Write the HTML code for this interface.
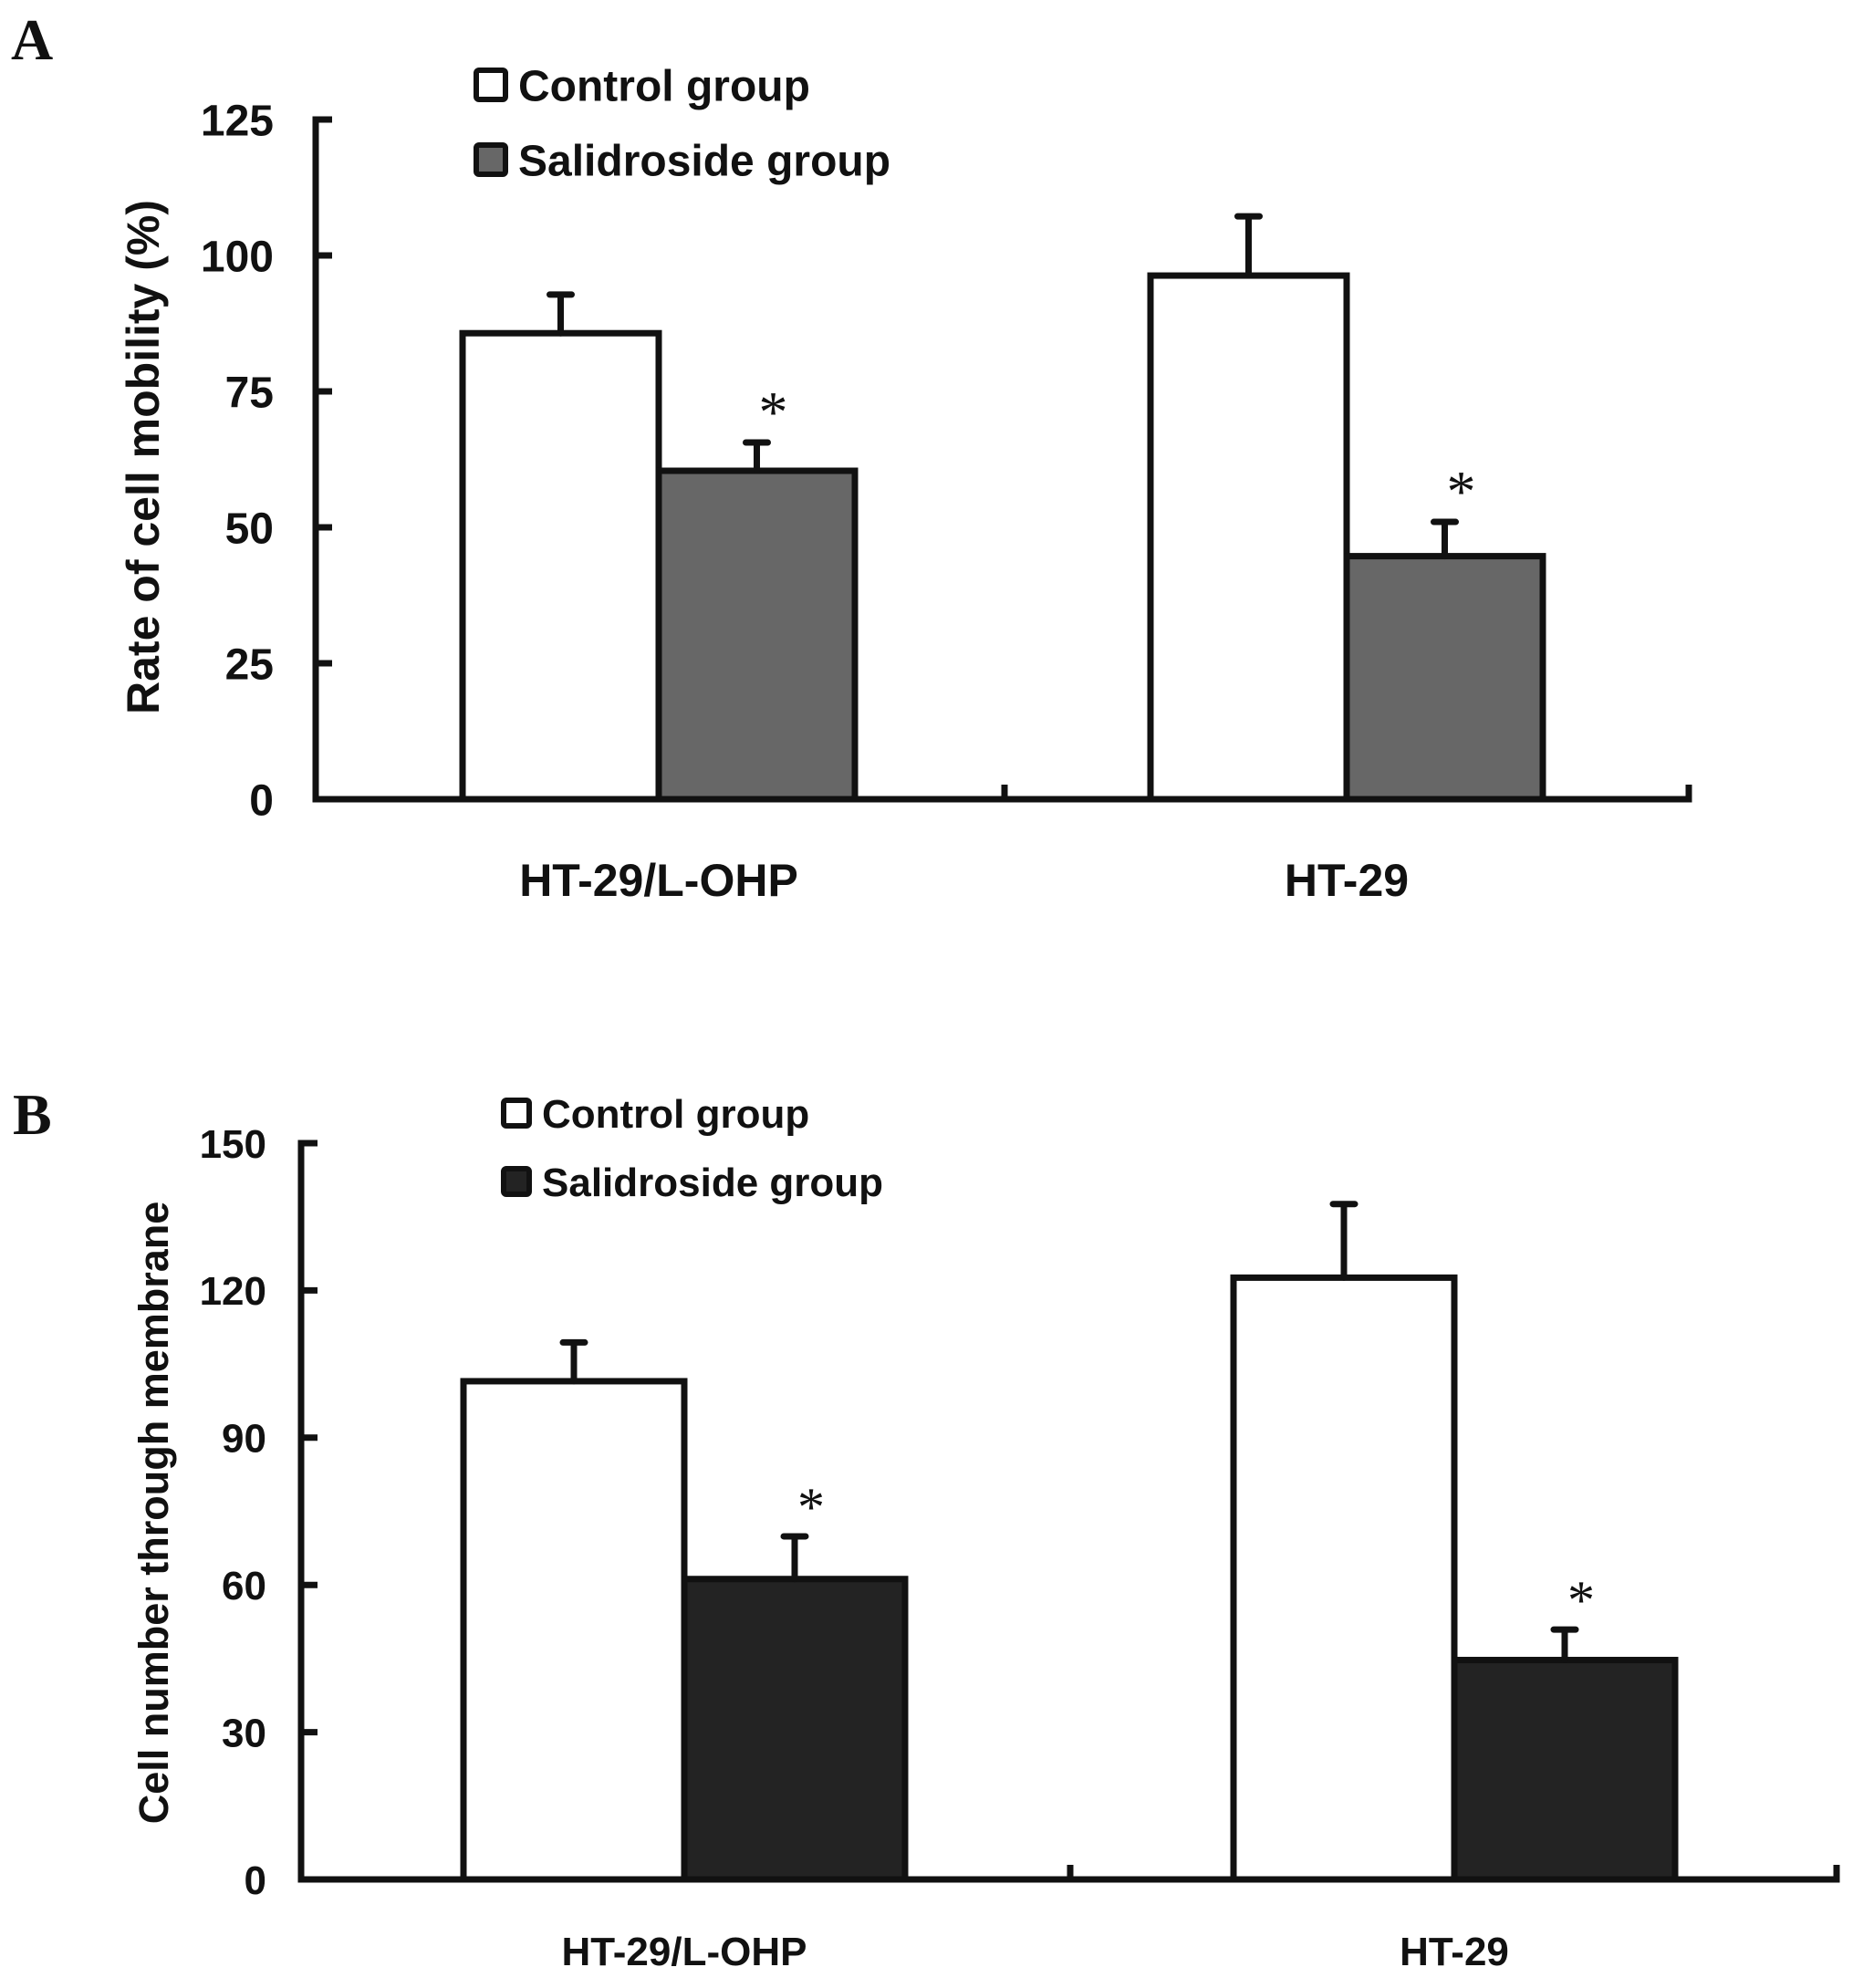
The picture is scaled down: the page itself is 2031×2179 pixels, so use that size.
<!DOCTYPE html>
<html><head><meta charset="utf-8"><style>
html,body{margin:0;padding:0;background:#fff;}
svg{display:block;}
text{font-family:"Liberation Sans",sans-serif;font-weight:bold;fill:#111;}
</style></head>
<body>
<svg id="fig" width="2031" height="2179" viewBox="0 0 2031 2179" xmlns="http://www.w3.org/2000/svg">
<text x="12" y="65" style="font-family:'Liberation Serif',serif;font-size:64px">A</text>
<text x="14" y="1243" style="font-family:'Liberation Serif',serif;font-size:64px">B</text>
</svg>
<script>
const categories = ["HT-29/L-OHP", "HT-29"];
const seriesNames = ["Control group", "Salidroside group"];
const aControl = [85.7, 96.3];
const aControlErr = [7.1, 10.9];
const aSalid = [60.4, 44.7];
const aSalidErr = [5.2, 6.3];
const aTicks = [0, 25, 50, 75, 100, 125];
const bControl = [101.5, 122.6];
const bControlErr = [7.9, 15.0];
const bSalid = [61.2, 44.7];
const bSalidErr = [8.7, 6.2];
const bTicks = [0, 30, 60, 90, 120, 150];

const NS = "http://www.w3.org/2000/svg";
const svg = document.getElementById("fig");
function mk(tag, attrs, parent) {
  const e = document.createElementNS(NS, tag);
  for (const k in attrs) e.setAttribute(k, attrs[k]);
  (parent || svg).appendChild(e);
  return e;
}

function panel(cfg) {
  const g = mk("g", {});
  
  
  const y = v => cfg.y0 - (v - cfg.ticks[0]) / (cfg.ticks[cfg.ticks.length - 1] - cfg.ticks[0]) * (cfg.y0 - cfg.yTop);
  const sw = 7;
  for (let i = 0; i < categories.length; i++) {
    const gx = cfg.groupX[i];
    const sets = [[cfg.ctrl, cfg.ctrlErr, "#ffffff"], [cfg.sal, cfg.salErr, cfg.salColor]];
    sets.forEach((s, j) => {
      const x0 = gx + j * cfg.bw;
      const top = y(s[0][i]);
      const r = mk("rect", {x: x0, y: top, width: cfg.bw, height: cfg.y0 - top, fill: s[2], stroke: "#111", "stroke-width": sw}, g);
      
      
      const cx = x0 + cfg.bw / 2, et = y(s[0][i] + s[1][i]);
      const e = mk("path", {d: `M${cx} ${top}V${et}M${cx - 12} ${et}H${cx + 12}`, stroke: "#111", "stroke-width": sw, fill: "none", "stroke-linecap": "round"}, g);
      
      
      if (j === 1) {
        const st = mk("text", {x: cx + 18, y: et - 12, "font-size": cfg.starSize, "text-anchor": "middle", style: "font-family:'Liberation Serif',serif;font-weight:normal"}, g);
        st.textContent = "*";
        
        
      }
    });
    const lab = mk("text", {x: gx + cfg.bw, y: cfg.labelY, "font-size": cfg.xfs, "text-anchor": "middle"}, g);
    lab.textContent = categories[i];
    
    
  }
  const ax = mk("path", {d: `M${cfg.x0 + 18} ${cfg.yTop}H${cfg.x0}V${cfg.y0}H${cfg.xEnd}V${cfg.y0 - 16}M${cfg.xMid} ${cfg.y0}V${cfg.y0 - 16}`, stroke: "#111", "stroke-width": sw, fill: "none", "stroke-linejoin": "miter"}, g);
  
  
  cfg.ticks.forEach(t => {
    const ty = y(t);
    const tk = mk("line", {x1: cfg.x0, x2: cfg.x0 + 18, y1: ty, y2: ty, stroke: "#111", "stroke-width": sw}, g);
    
    
    const tl = mk("text", {x: cfg.x0 - cfg.tickGap, y: ty + cfg.fs * 0.36, "font-size": cfg.fs, "text-anchor": "end"}, g);
    tl.textContent = t;
    
    
  });
  const yt = mk("text", {x: 0, y: 0, "font-size": cfg.titleFs, "text-anchor": "middle", transform: `translate(${cfg.titleX},${cfg.titleY}) rotate(-90)`}, g);
  yt.textContent = cfg.title;
  
  
  seriesNames.forEach((n, j) => {
    const ly = cfg.legY + j * cfg.legGap;
    const b = mk("rect", {x: cfg.legX, y: ly - cfg.box / 2, width: cfg.box, height: cfg.box, rx: 3, fill: j ? cfg.salColor : "#fff", stroke: "#111", "stroke-width": 6}, g);
    
    
    const lt = mk("text", {x: cfg.legX + cfg.box + 14, y: ly + cfg.legFs * 0.36, "font-size": cfg.legFs}, g);
    lt.textContent = n;
    
    
  });
}

panel({name: "chart-a", ctrl: aControl, ctrlErr: aControlErr, sal: aSalid, salErr: aSalidErr, ticks: aTicks,
  x0: 346, y0: 876, yTop: 131, xEnd: 1851, xMid: 1101, groupX: [507, 1261], bw: 215, salColor: "#676767",
  fs: 48, tickGap: 46, xfs: 50, titleFs: 50, titleX: 174, titleY: 501, title: "Rate of cell  mobility (%)", labelY: 982,
  legX: 522, legY: 93, legGap: 82, box: 32, legFs: 48, starSize: 64});
panel({name: "chart-b", ctrl: bControl, ctrlErr: bControlErr, sal: bSalid, salErr: bSalidErr, ticks: bTicks,
  x0: 330, y0: 2060, yTop: 1253, xEnd: 2013, xMid: 1173, groupX: [508, 1352], bw: 242, salColor: "#232323",
  fs: 44, tickGap: 38, xfs: 44, titleFs: 45, titleX: 184, titleY: 1658, title: "Cell  number through  membrane", labelY: 2154,
  legX: 552, legY: 1220, legGap: 75, box: 28, legFs: 44, starSize: 60});
</script>
</body></html>
